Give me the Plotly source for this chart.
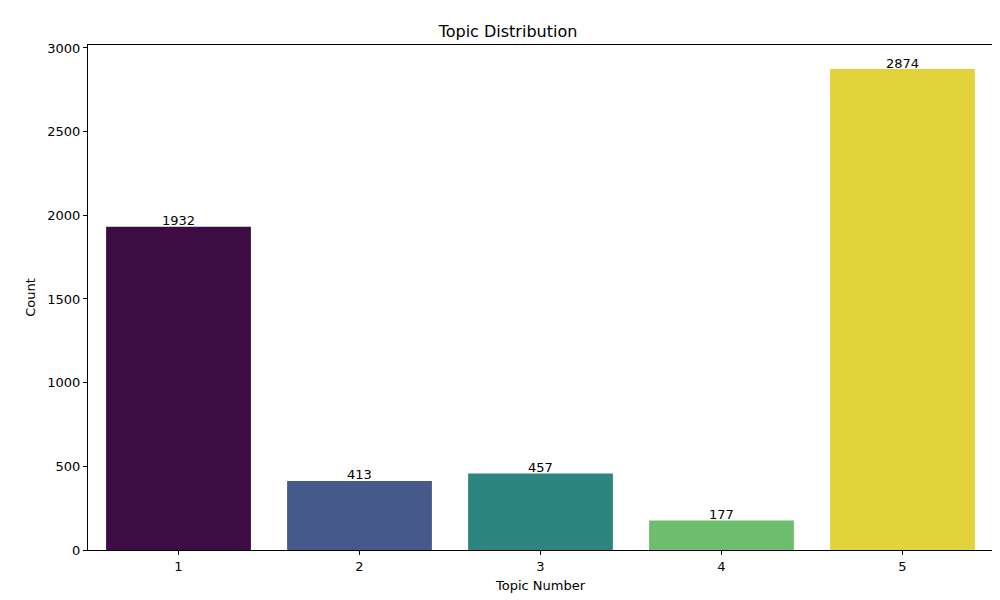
import plotly.graph_objects as go

topics = ["1", "2", "3", "4", "5"]
counts = [1932, 413, 457, 177, 2874]
colors = ["#3e0c45", "#45598a", "#2e857f", "#6cbd6c", "#e2d33d"]

fig = go.Figure()
fig.add_trace(go.Bar(
    x=topics, y=counts, marker=dict(color=colors, line=dict(width=0)),
    width=0.8, showlegend=False,
))

# category axis: annotation x is the category index
for i, c in enumerate(counts):
    fig.add_annotation(x=i, y=c, text=str(c), showarrow=False,
                       yanchor="middle", yshift=6, font=dict(size=13, color="black"))

fig.update_layout(
    width=1000, height=600,
    margin=dict(l=80, r=15, t=37, b=58),
    paper_bgcolor="white", plot_bgcolor="white",
    font=dict(family="DejaVu Sans", size=13, color="black"),
    title=dict(text="Topic Distribution", x=0.5, xanchor="center",
               y=1 - 23 / 600, yanchor="middle", font=dict(size=16)),
    xaxis=dict(title=dict(text="Topic Number", standoff=8, font=dict(size=13)),
               range=[-0.5, 4.5], automargin=False,
               showline=True, linecolor="black", mirror=True, ticks="outside",
               ticklen=4, tickcolor="black", showgrid=False),
    yaxis=dict(title=dict(text="Count", standoff=8, font=dict(size=13)),
               range=[0, 3017.7], automargin=False,
               tickvals=[0, 500, 1000, 1500, 2000, 2500, 3000],
               showline=True, linecolor="black", mirror=True, ticks="outside",
               ticklen=4, tickcolor="black", showgrid=False, zeroline=False),
)

fig.write_html("out.html")
